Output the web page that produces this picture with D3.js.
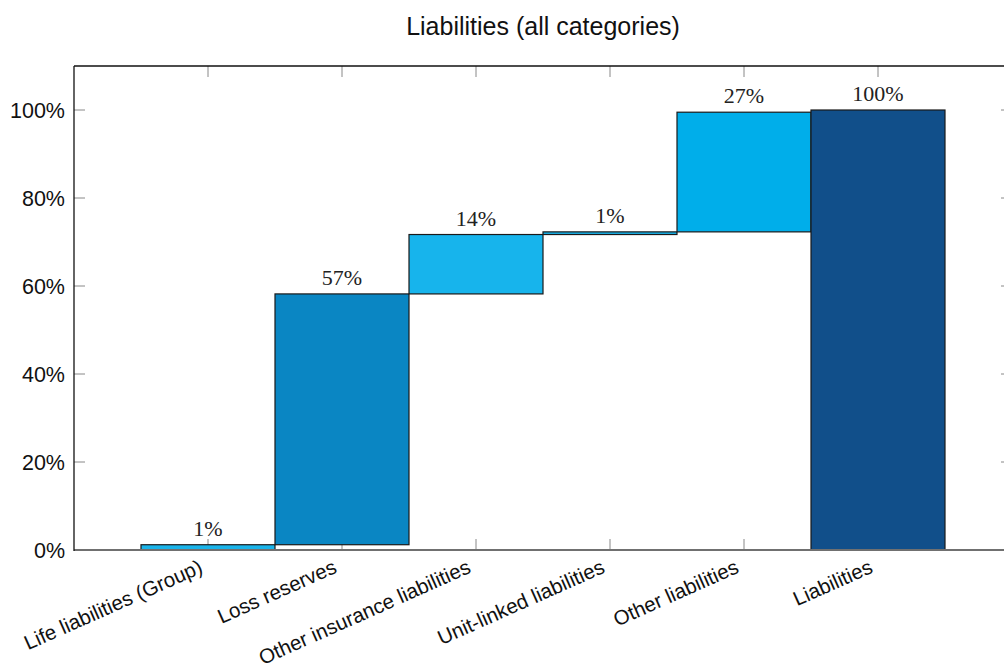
<!DOCTYPE html>
<html>
<head>
<meta charset="utf-8">
<script src="https://cdn.jsdelivr.net/npm/d3@7"></script>
<style>
html,body{margin:0;padding:0;background:#fff;}
svg{display:block;}
</style>
</head>
<body>
<svg id="chart" width="1004" height="668"></svg>
<script>
const title = "Liabilities (all categories)";
const categories = ["Life liabilities (Group)", "Loss reserves", "Other insurance liabilities", "Unit-linked liabilities", "Other liabilities", "Liabilities"];
const deltas = [1.2, 57.0, 13.5, 0.6, 27.2];
const total = 100;
const valueLabels = ["1%", "57%", "14%", "1%", "27%", "100%"];
const colors = ["#1ab4ea", "#0a86c3", "#17b4ec", "#17b4ec", "#00aeea", "#114f8a"];
const yTicks = [0, 20, 40, 60, 80, 100];

// build waterfall segments
const segs = [];
let acc = 0;
deltas.forEach((d, i) => { segs.push({i, y0: acc, y1: acc + d}); acc += d; });
segs.push({i: deltas.length, y0: 0, y1: total});

const svg = d3.select("#chart");
const L = 74, R = 1012, T = 66, B = 550;
const x = d3.scaleLinear().domain([-1, 6]).range([L, R]);
const y = d3.scaleLinear().domain([0, 110]).range([B, T]);
const bw = x(1) - x(0);

// title
svg.append("text").attr("x", (L + R) / 2).attr("y", 35).attr("text-anchor", "middle")
  .attr("font-family", "Liberation Sans, Arial, sans-serif").attr("font-size", 25).attr("fill", "#111").text(title);

// ticks (gray, inward)
const tk = svg.append("g").attr("stroke", "#888").attr("stroke-width", 1);
categories.forEach((c, i) => {
  tk.append("line").attr("x1", x(i)).attr("x2", x(i)).attr("y1", B).attr("y2", B - 11);
  tk.append("line").attr("x1", x(i)).attr("x2", x(i)).attr("y1", T).attr("y2", T + 11);
});
yTicks.forEach(v => {
  tk.append("line").attr("x1", L).attr("x2", L + 11).attr("y1", y(v)).attr("y2", y(v));
  tk.append("line").attr("x1", R).attr("x2", R - 11).attr("y1", y(v)).attr("y2", y(v));
});

// bars
svg.append("g").selectAll("rect").data(segs).join("rect")
  .attr("x", d => x(d.i) - bw / 2)
  .attr("width", bw)
  .attr("y", d => y(d.y1))
  .attr("height", d => y(d.y0) - y(d.y1))
  .attr("fill", (d, k) => colors[k])
  .attr("stroke", "#1a1a1a").attr("stroke-width", 1.2);

// value labels
svg.append("g").selectAll("text").data(segs).join("text")
  .attr("x", d => x(d.i))
  .attr("y", d => y(d.y1) - 9)
  .attr("text-anchor", "middle")
  .attr("font-family", "Liberation Serif, DejaVu Serif, serif")
  .attr("font-size", 22).attr("fill", "#222")
  .text((d, k) => valueLabels[k]);

// axis lines
svg.append("line").attr("x1", L).attr("x2", R).attr("y1", B).attr("y2", B).attr("stroke", "#707070").attr("stroke-width", 2);
svg.append("line").attr("x1", L).attr("x2", R).attr("y1", T).attr("y2", T).attr("stroke", "#111").attr("stroke-width", 1.3);
svg.append("line").attr("x1", L).attr("x2", L).attr("y1", T).attr("y2", B + 1).attr("stroke", "#111").attr("stroke-width", 1.3);
svg.append("line").attr("x1", R).attr("x2", R).attr("y1", T).attr("y2", B + 1).attr("stroke", "#111").attr("stroke-width", 1.3);

// y tick labels
svg.append("g").selectAll("text").data(yTicks).join("text")
  .attr("x", L - 9).attr("y", d => y(d)).attr("dy", "0.36em")
  .attr("text-anchor", "end")
  .attr("font-family", "Liberation Sans, Arial, sans-serif").attr("font-size", 21.5).attr("fill", "#111")
  .text(d => d + "%");

// x tick labels
svg.append("g").selectAll("text").data(categories).join("text")
  .attr("text-anchor", "end")
  .attr("font-family", "Liberation Sans, Arial, sans-serif").attr("font-size", 20.5).attr("fill", "#111")
  .attr("transform", (d, i) => `translate(${x(i) - 4},${B + 22}) rotate(-24)`)
  .text(d => d);
</script>
</body>
</html>
